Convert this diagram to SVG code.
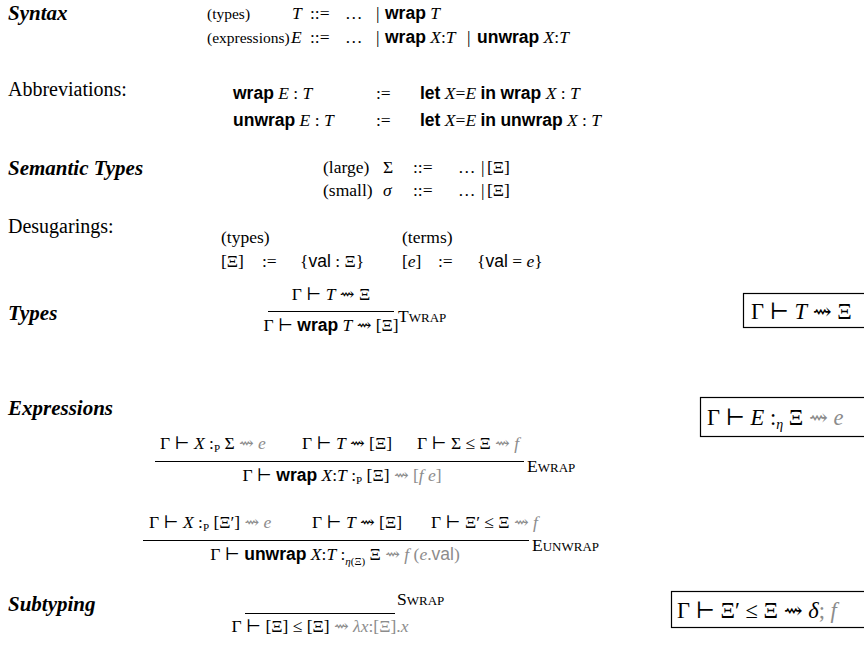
<svg xmlns="http://www.w3.org/2000/svg" width="864" height="654" viewBox="0 0 864 654">
<style>
text { font-family: "Liberation Serif", "DejaVu Serif", serif; font-size: 17.5px; fill: #000; }
.hd { font-weight: bold; font-style: italic; font-size: 21px; }
.lb { font-size: 20px; }
.pl { font-size: 15.5px; }
.it { font-style: italic; }
.kw { font-family: "Liberation Sans", "DejaVu Sans", sans-serif; font-weight: bold; font-style: normal; }
.sf { font-family: "Liberation Sans", "DejaVu Sans", sans-serif; font-style: normal; }
.g { fill: #8c8c8c; }
.bx { font-size: 22.5px; }
.sc { font-size: 13px; }
.sub { font-size: 11px; }
.rule { stroke: #000; stroke-width: 1; }
.box { fill: none; stroke: #000; stroke-width: 1.2; }
</style>

<g id="syntax">
  <text class="hd" x="8" y="20">Syntax</text>
  <text class="pl" x="207" y="19">(types)</text>
  <text class="it" x="292" y="19">T</text>
  <text x="310" y="19">::=</text>
  <text x="345" y="19">…</text>
  <text x="376" y="19">|</text>
  <text x="385" y="19"><tspan class="kw">wrap</tspan> <tspan class="it">T</tspan></text>
  <text class="pl" x="207" y="43">(expressions)</text>
  <text class="it" x="291" y="43">E</text>
  <text x="310" y="43">::=</text>
  <text x="345" y="43">…</text>
  <text x="376" y="43">|</text>
  <text x="385" y="43"><tspan class="kw">wrap</tspan> <tspan class="it">X</tspan>:<tspan class="it">T</tspan></text>
  <text x="467" y="43">|</text>
  <text x="477" y="43"><tspan class="kw">unwrap</tspan> <tspan class="it">X</tspan>:<tspan class="it">T</tspan></text>
</g>

<g id="abbreviations">
  <text class="lb" x="8" y="96">Abbreviations:</text>
  <text x="233" y="99"><tspan class="kw">wrap</tspan> <tspan class="it">E</tspan> : <tspan class="it">T</tspan></text>
  <text x="376" y="99">:=</text>
  <text x="420" y="99"><tspan class="kw">let</tspan> <tspan class="it">X</tspan>=<tspan class="it">E</tspan> <tspan class="kw">in</tspan> <tspan class="kw">wrap</tspan> <tspan class="it">X</tspan> : <tspan class="it">T</tspan></text>
  <text x="233" y="126"><tspan class="kw">unwrap</tspan> <tspan class="it">E</tspan> : <tspan class="it">T</tspan></text>
  <text x="376" y="126">:=</text>
  <text x="420" y="126"><tspan class="kw">let</tspan> <tspan class="it">X</tspan>=<tspan class="it">E</tspan> <tspan class="kw">in</tspan> <tspan class="kw">unwrap</tspan> <tspan class="it">X</tspan> : <tspan class="it">T</tspan></text>
</g>

<g id="semantic-types">
  <text class="hd" x="8" y="175">Semantic Types</text>
  <text x="323" y="173">(large)</text>
  <text x="383" y="173">Σ</text>
  <text x="413" y="173">::=</text>
  <text x="458" y="173">…</text>
  <text x="481" y="173">|</text>
  <text x="487" y="173">[Ξ]</text>
  <text x="323" y="196">(small)</text>
  <text class="it" x="383" y="196">σ</text>
  <text x="413" y="196">::=</text>
  <text x="458" y="196">…</text>
  <text x="481" y="196">|</text>
  <text x="487" y="196">[Ξ]</text>
</g>

<g id="desugarings">
  <text class="lb" x="8" y="233">Desugarings:</text>
  <text x="221" y="243">(types)</text>
  <text x="402" y="243">(terms)</text>
  <text x="221" y="267">[Ξ]</text>
  <text x="262" y="267">:=</text>
  <text x="300" y="267">{<tspan class="sf">val</tspan> : Ξ}</text>
  <text x="402" y="267">[<tspan class="it">e</tspan>]</text>
  <text x="438" y="267">:=</text>
  <text x="477" y="267">{<tspan class="sf">val</tspan> = <tspan class="it">e</tspan>}</text>
</g>

<g id="types">
  <text class="hd" x="8" y="320">Types</text>
  <rect class="box" x="743.5" y="293.5" width="130" height="34"/>
  <text class="bx" x="751" y="319">Γ ⊢ <tspan class="it">T</tspan> ⇝ Ξ</text>
  <text x="331" y="300" text-anchor="middle">Γ ⊢ <tspan class="it">T</tspan> ⇝ Ξ</text>
  <line class="rule" x1="268" y1="311.5" x2="394" y2="311.5"/>
  <text x="331" y="331" text-anchor="middle">Γ ⊢ <tspan class="kw">wrap</tspan> <tspan class="it">T</tspan> ⇝ [Ξ]</text>
  <text x="398" y="322">T<tspan class="sc">WRAP</tspan></text>
</g>

<g id="expressions">
  <text class="hd" x="8" y="415">Expressions</text>
  <rect class="box" x="700.5" y="397.5" width="180" height="39"/>
  <text class="bx" x="707" y="425">Γ ⊢ <tspan class="it">E</tspan> :<tspan class="it sub" dy="4" style="font-size:14px">η</tspan><tspan dy="-4"> Ξ </tspan><tspan class="g">⇝ <tspan class="it">e</tspan></tspan></text>

  <text x="160" y="449">Γ ⊢ <tspan class="it">X</tspan> :<tspan class="sub" dy="3">P</tspan><tspan dy="-3"> Σ </tspan><tspan class="g">⇝ <tspan class="it">e</tspan></tspan></text>
  <text x="302" y="449">Γ ⊢ <tspan class="it">T</tspan> ⇝ [Ξ]</text>
  <text x="417" y="449">Γ ⊢ Σ ≤ Ξ <tspan class="g">⇝ <tspan class="it">f</tspan></tspan></text>
  <line class="rule" x1="155" y1="461.5" x2="524" y2="461.5"/>
  <text x="342" y="481" text-anchor="middle">Γ ⊢ <tspan class="kw">wrap</tspan> <tspan class="it">X</tspan>:<tspan class="it">T</tspan> :<tspan class="sub" dy="3">P</tspan><tspan dy="-3"> [Ξ] </tspan><tspan class="g">⇝ [<tspan class="it">f e</tspan>]</tspan></text>
  <text x="527" y="472">E<tspan class="sc">WRAP</tspan></text>

  <text x="149" y="528">Γ ⊢ <tspan class="it">X</tspan> :<tspan class="sub" dy="3">P</tspan><tspan dy="-3"> [Ξ′] </tspan><tspan class="g">⇝ <tspan class="it">e</tspan></tspan></text>
  <text x="312" y="528">Γ ⊢ <tspan class="it">T</tspan> ⇝ [Ξ]</text>
  <text x="431" y="528">Γ ⊢ Ξ′ ≤ Ξ <tspan class="g">⇝ <tspan class="it">f</tspan></tspan></text>
  <line class="rule" x1="143" y1="540.5" x2="529" y2="540.5"/>
  <text x="335" y="560" text-anchor="middle">Γ ⊢ <tspan class="kw">unwrap</tspan> <tspan class="it">X</tspan>:<tspan class="it">T</tspan> :<tspan class="sub" dy="5"><tspan class="it">η</tspan>(Ξ)</tspan><tspan dy="-5"> Ξ </tspan><tspan class="g">⇝ <tspan class="it">f</tspan> (<tspan class="it">e</tspan>.<tspan class="sf">val</tspan>)</tspan></text>
  <text x="532" y="551">E<tspan class="sc">UNWRAP</tspan></text>
</g>

<g id="subtyping">
  <text class="hd" x="8" y="611">Subtyping</text>
  <rect class="box" x="671.5" y="591.5" width="200" height="36"/>
  <text class="bx" x="677" y="618">Γ ⊢ Ξ′ ≤ Ξ ⇝ <tspan class="it">δ</tspan><tspan class="g">; <tspan class="it">f</tspan></tspan></text>
  <line class="rule" x1="245" y1="613.5" x2="395" y2="613.5"/>
  <text x="320" y="632" text-anchor="middle">Γ ⊢ [Ξ] ≤ [Ξ] <tspan class="g">⇝ <tspan class="it">λx</tspan>:[Ξ].<tspan class="it">x</tspan></tspan></text>
  <text x="397" y="605">S<tspan class="sc">WRAP</tspan></text>
</g>
</svg>
